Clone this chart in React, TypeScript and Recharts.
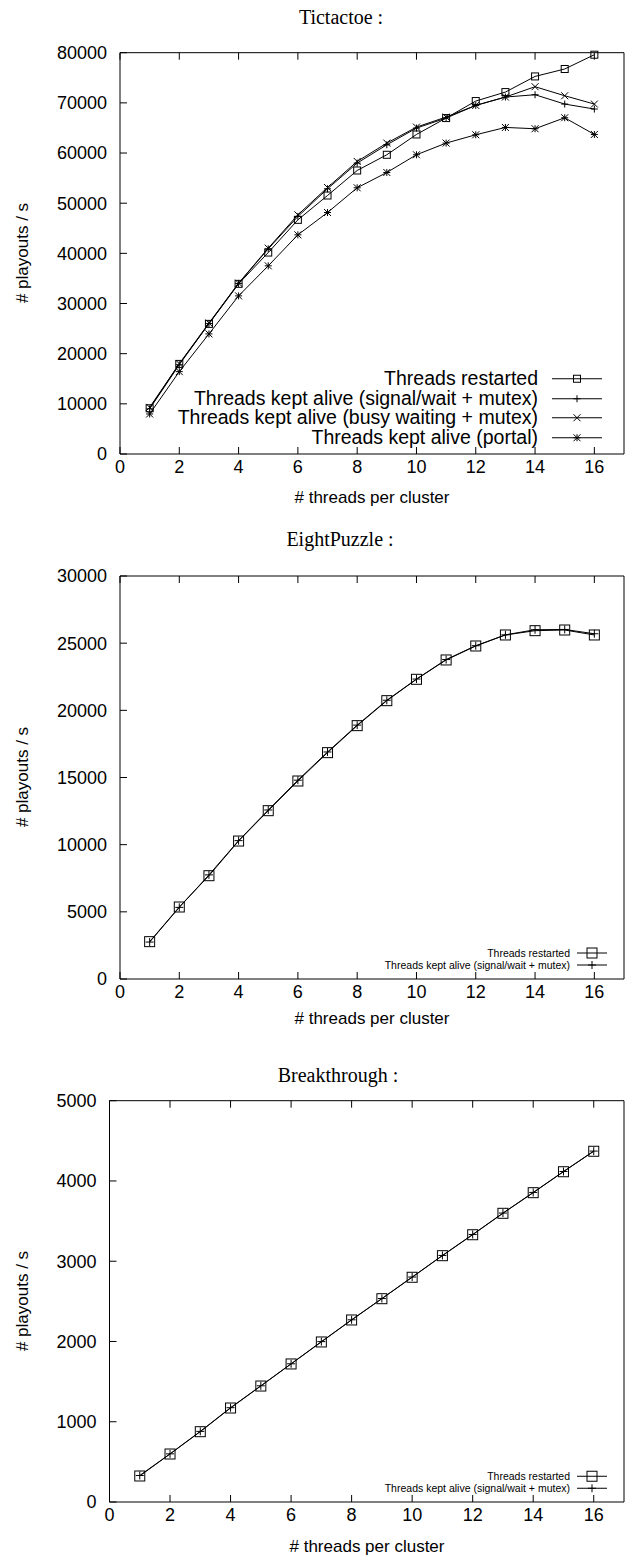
import { LineChart, Line, XAxis, YAxis, Legend } from 'recharts';

const THREADS = [1, 2, 3, 4, 5, 6, 7, 8, 9, 10, 11, 12, 13, 14, 15, 16];
const X_TICKS = [0, 2, 4, 6, 8, 10, 12, 14, 16];

// Tictactoe
const TTT_RESTARTED = [9120, 17960, 25940, 33920, 40160, 46680, 51530, 56520, 59650, 63700, 66970, 70360, 72150, 75270, 76750, 79600];
const TTT_SIGNAL = [9000, 17800, 26000, 34000, 40900, 47350, 52870, 57990, 61640, 64970, 66970, 69490, 71160, 71620, 69760, 68770];
const TTT_BUSY = [9300, 18000, 26100, 34050, 41030, 47680, 53130, 58320, 61980, 65170, 67170, 69490, 71160, 73220, 71420, 69760];
const TTT_PORTAL = [7980, 16420, 23940, 31520, 37510, 43690, 48140, 53070, 56120, 59650, 61980, 63640, 65100, 64840, 67030, 63700];
const TTT_Y_TICKS = [0, 10000, 20000, 30000, 40000, 50000, 60000, 70000, 80000];

// EightPuzzle
const EP_RESTARTED = [2780, 5360, 7690, 10270, 12530, 14740, 16850, 18860, 20720, 22310, 23750, 24790, 25610, 25930, 25980, 25610];
const EP_SIGNAL = [2750, 5330, 7750, 10300, 12580, 14800, 16900, 18900, 20750, 22330, 23780, 24810, 25620, 26000, 26020, 25700];
const EP_Y_TICKS = [0, 5000, 10000, 15000, 20000, 25000, 30000];

// Breakthrough
const BT_RESTARTED = [324, 598, 876, 1171, 1445, 1720, 1994, 2268, 2533, 2800, 3069, 3330, 3597, 3854, 4115, 4370];
const BT_SIGNAL = [330, 600, 880, 1175, 1448, 1722, 1998, 2270, 2535, 2803, 3072, 3333, 3600, 3857, 4118, 4372];
const BT_Y_TICKS = [0, 1000, 2000, 3000, 4000, 5000];

const SANS = '"Liberation Sans", Arial, Helvetica, sans-serif';
const SERIF = '"Liberation Serif", "Times New Roman", serif';
const TICK_LEN = 7;

type Kind = 'square' | 'plus' | 'cross' | 'star';

interface SeriesDef {
  key: string;
  name: string;
  kind: Kind;
  values: number[];
}

function Marker({ kind, cx, cy, r }: { kind: Kind; cx: number; cy: number; r: number }) {
  const plus = `M${cx - r},${cy}H${cx + r}M${cx},${cy - r}V${cy + r}`;
  const cross = `M${cx - r},${cy - r}L${cx + r},${cy + r}M${cx - r},${cy + r}L${cx + r},${cy - r}`;
  if (kind === 'square') {
    return <rect x={cx - r} y={cy - r} width={2 * r} height={2 * r} fill="none" stroke="#000" strokeWidth={1} />;
  }
  const d = kind === 'plus' ? plus : kind === 'cross' ? cross : plus + cross;
  return <path d={d} fill="none" stroke="#000" strokeWidth={1} />;
}

// gnuplot style ticks: short marks pointing into the plot, labels outside
type TickProps = { x: number; y: number; payload: { value: number } };

const BOTTOM_GAP = 6;
const LEFT_GAP = 13;

function BottomTick({ x, y, payload }: TickProps) {
  const axisY = y - BOTTOM_GAP;
  return (
    <g>
      <line x1={x} x2={x} y1={axisY} y2={axisY - TICK_LEN} stroke="#000" />
      <text x={x} y={y} dy="0.71em" textAnchor="middle" fill="#000" fontSize={18} fontFamily={SANS}>
        {payload.value}
      </text>
    </g>
  );
}

function LeftTick({ x, y, payload }: TickProps) {
  const axisX = x + LEFT_GAP;
  return (
    <g>
      <line x1={axisX} x2={axisX + TICK_LEN} y1={y} y2={y} stroke="#000" />
      <text x={x} y={y} dy="0.355em" textAnchor="end" fill="#000" fontSize={18} fontFamily={SANS}>
        {payload.value}
      </text>
    </g>
  );
}

function TopTick({ x, y }: TickProps) {
  return <line x1={x} x2={x} y1={y} y2={y + TICK_LEN} stroke="#000" />;
}

function RightTick({ x, y }: TickProps) {
  return <line x1={x} x2={x - TICK_LEN} y1={y} y2={y} stroke="#000" />;
}

interface LegendCfg {
  left: number;
  top: number;
  textWidth: number;
  gap: number;
  sample: number;
  rowHeight: number;
  fontSize: number;
  squareR: number;
  otherR: number;
}

interface PanelProps {
  top: number;
  height: number;
  series: SeriesDef[];
  yMax: number;
  yTicks: number[];
  plot: { top: number; left: number; bottom: number };
  squareR: number;
  otherR: number;
  legend: LegendCfg;
}

function Panel({ top, height, series, yMax, yTicks, plot, squareR, otherR, legend }: PanelProps) {
  const rows = THREADS.map((t, i) => {
    const row: Record<string, number> = { threads: t };
    series.forEach((s) => {
      row[s.key] = s.values[i];
    });
    return row;
  });

  const renderLegend = () => (
    <div style={{ fontFamily: SANS, fontSize: legend.fontSize, color: '#000' }}>
      {series.map((s) => (
        <div key={s.key} style={{ display: 'flex', alignItems: 'center', height: legend.rowHeight }}>
          <span style={{ width: legend.textWidth, textAlign: 'right', whiteSpace: 'nowrap', lineHeight: 1 }}>{s.name}</span>
          <svg width={legend.sample} height={legend.rowHeight} style={{ marginLeft: legend.gap, display: 'block' }}>
            <line x1={0} x2={legend.sample} y1={legend.rowHeight / 2} y2={legend.rowHeight / 2} stroke="#000" strokeWidth={1} />
            <Marker
              kind={s.kind}
              cx={legend.sample / 2}
              cy={legend.rowHeight / 2}
              r={s.kind === 'square' ? legend.squareR : legend.otherR}
            />
          </svg>
        </div>
      ))}
    </div>
  );

  // plot box right edge sits at x = 624 for every panel
  const margin = { top: plot.top - 1, right: 629 - 624 - 1, bottom: height - plot.bottom - 30, left: plot.left - 60 };

  return (
    <div style={{ position: 'absolute', left: 0, top, width: 629, height }}>
      <LineChart width={629} height={height} data={rows} margin={margin}>
        <XAxis
          type="number"
          dataKey="threads"
          domain={[0, 17]}
          ticks={X_TICKS}
          height={30}
          stroke="#000"
          tickLine={false}
          tickSize={0}
          tickMargin={BOTTOM_GAP}
          tick={BottomTick}
        />
        <XAxis
          xAxisId="top"
          orientation="top"
          type="number"
          dataKey="threads"
          domain={[0, 17]}
          ticks={X_TICKS}
          height={1}
          stroke="#000"
          tickLine={false}
          tickSize={0}
          tickMargin={0}
          tick={TopTick}
        />
        <YAxis
          type="number"
          domain={[0, yMax]}
          ticks={yTicks}
          width={60}
          stroke="#000"
          tickLine={false}
          tickSize={0}
          tickMargin={LEFT_GAP}
          tick={LeftTick}
        />
        <YAxis
          yAxisId="right"
          orientation="right"
          type="number"
          domain={[0, yMax]}
          ticks={yTicks}
          width={1}
          stroke="#000"
          tickLine={false}
          tickSize={0}
          tickMargin={0}
          tick={RightTick}
        />
        {series.map((s) => (
          <Line
            key={s.key}
            dataKey={s.key}
            name={s.name}
            stroke="#000"
            strokeWidth={1}
            isAnimationActive={false}
            dot={(p: { cx: number; cy: number; index: number }) => (
              <Marker
                key={`${s.key}-${p.index}`}
                kind={s.kind}
                cx={p.cx}
                cy={p.cy}
                r={s.kind === 'square' ? squareR : otherR}
              />
            )}
            activeDot={false}
          />
        ))}
        <Legend
          layout="vertical"
          align="center"
          verticalAlign="middle"
          content={renderLegend}
          wrapperStyle={{ left: legend.left, top: legend.top, width: legend.textWidth + legend.gap + legend.sample, height: 'auto' }}
        />
      </LineChart>
    </div>
  );
}

function Title({ text, x, y }: { text: string; x: number; y: number }) {
  return (
    <div
      style={{
        position: 'absolute',
        left: x,
        top: y,
        transform: 'translate(-50%, -50%)',
        fontFamily: SERIF,
        fontSize: 20,
        lineHeight: 1,
        whiteSpace: 'nowrap',
        color: '#000',
      }}
    >
      {text}
    </div>
  );
}

function AxisLabel({ text, x, y, rotate }: { text: string; x: number; y: number; rotate?: boolean }) {
  return (
    <div
      style={{
        position: 'absolute',
        left: x,
        top: y,
        transform: `translate(-50%, -50%)${rotate ? ' rotate(-90deg)' : ''}`,
        fontFamily: SANS,
        fontSize: 17,
        lineHeight: 1,
        whiteSpace: 'nowrap',
        color: '#000',
      }}
    >
      {text}
    </div>
  );
}

const NAME_RESTARTED = 'Threads restarted';
const NAME_SIGNAL = 'Threads kept alive (signal/wait + mutex)';
const NAME_BUSY = 'Threads kept alive (busy waiting + mutex)';
const NAME_PORTAL = 'Threads kept alive (portal)';

export default function App() {
  const tttSeries: SeriesDef[] = [
    { key: 'restarted', name: NAME_RESTARTED, kind: 'square', values: TTT_RESTARTED },
    { key: 'signal', name: NAME_SIGNAL, kind: 'plus', values: TTT_SIGNAL },
    { key: 'busy', name: NAME_BUSY, kind: 'cross', values: TTT_BUSY },
    { key: 'portal', name: NAME_PORTAL, kind: 'star', values: TTT_PORTAL },
  ];
  const epSeries: SeriesDef[] = [
    { key: 'restarted', name: NAME_RESTARTED, kind: 'square', values: EP_RESTARTED },
    { key: 'signal', name: NAME_SIGNAL, kind: 'plus', values: EP_SIGNAL },
  ];
  const btSeries: SeriesDef[] = [
    { key: 'restarted', name: NAME_RESTARTED, kind: 'square', values: BT_RESTARTED },
    { key: 'signal', name: NAME_SIGNAL, kind: 'plus', values: BT_SIGNAL },
  ];

  return (
    <div style={{ position: 'absolute', left: 0, top: 0, width: 629, height: 1556, background: '#fff', overflow: 'hidden' }}>
      <Panel
        top={0}
        height={520}
        series={tttSeries}
        yMax={80000}
        yTicks={TTT_Y_TICKS}
        plot={{ top: 52.7, left: 120, bottom: 454 }}
        squareR={3.5}
        otherR={3.5}
        legend={{ left: 170, top: 369, textWidth: 368, gap: 14, sample: 50, rowHeight: 19.5, fontSize: 19.5, squareR: 3.5, otherR: 3.5 }}
      />
      <Panel
        top={520}
        height={520}
        series={epSeries}
        yMax={30000}
        yTicks={EP_Y_TICKS}
        plot={{ top: 56, left: 120, bottom: 459 }}
        squareR={5}
        otherR={4}
        legend={{ left: 300, top: 427, textWidth: 270, gap: 7, sample: 30, rowHeight: 12, fontSize: 10.5, squareR: 5, otherR: 4 }}
      />
      <Panel
        top={1040}
        height={516}
        series={btSeries}
        yMax={5000}
        yTicks={BT_Y_TICKS}
        plot={{ top: 60.7, left: 109.5, bottom: 462 }}
        squareR={5}
        otherR={4}
        legend={{ left: 300, top: 429.8, textWidth: 270, gap: 7, sample: 30, rowHeight: 12.5, fontSize: 10.5, squareR: 5, otherR: 4 }}
      />

      <Title text="Tictactoe :" x={341} y={17} />
      <Title text="EightPuzzle :" x={340} y={539} />
      <Title text="Breakthrough :" x={338} y={1075} />

      <AxisLabel text="# threads per cluster" x={372} y={497} />
      <AxisLabel text="# threads per cluster" x={372} y={1018} />
      <AxisLabel text="# threads per cluster" x={367} y={1546} />

      <AxisLabel text="# playouts / s" x={22} y={253} rotate />
      <AxisLabel text="# playouts / s" x={22} y={777} rotate />
      <AxisLabel text="# playouts / s" x={22} y={1301} rotate />
    </div>
  );
}
